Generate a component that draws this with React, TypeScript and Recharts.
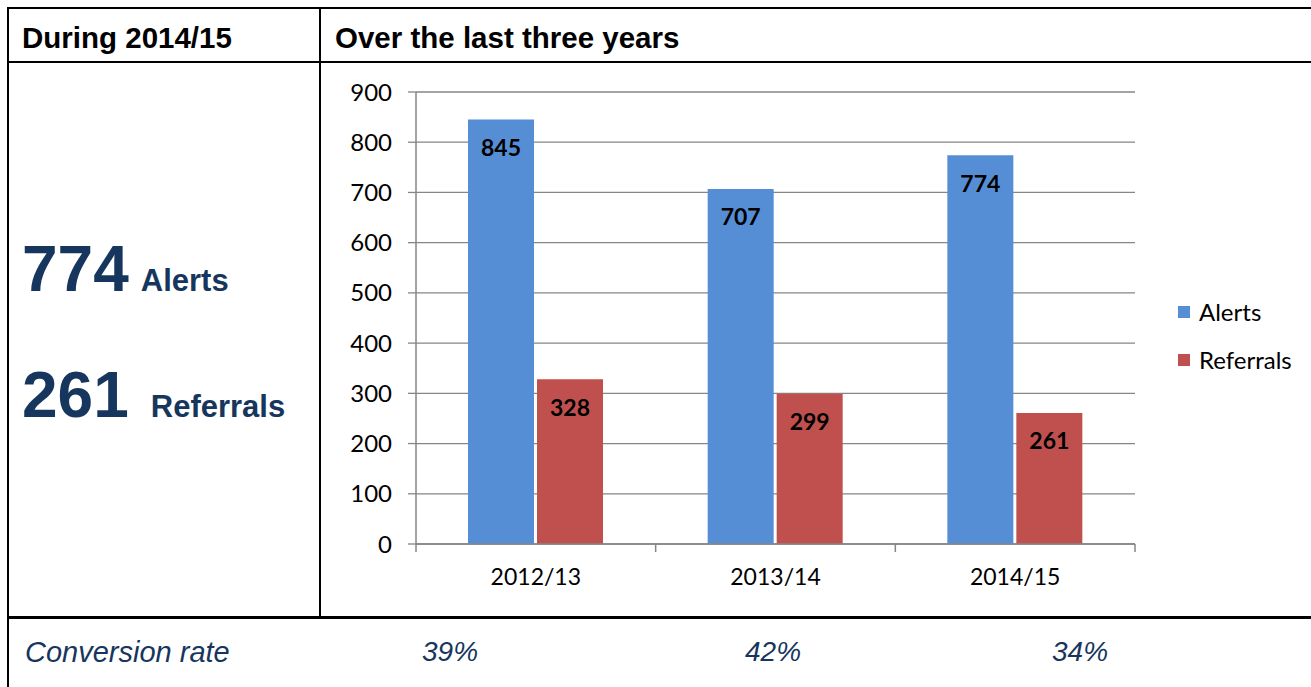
import React from "react";
import { BarChart, Bar, XAxis, YAxis, CartesianGrid, LabelList } from "recharts";

const years = ["2012/13", "2013/14", "2014/15"];
const alerts = [845, 707, 774];
const referrals = [328, 299, 261];
const conversionRates = ["39%", "42%", "34%"];
const yTicks = [0, 100, 200, 300, 400, 500, 600, 700, 800, 900];

const data = years.map((year, i) => ({ year, alerts: alerts[i], referrals: referrals[i] }));

const navy = "#17365D";
const gridGrey = "#868686";
const chartFont = "Lato, 'Noto Sans', sans-serif";
const tableFont = "'Liberation Sans', Arial, sans-serif";

const X_TICK_SIZE = 8;
const X_TICK_MARGIN = 17;

const legendItems = [
  { name: "Alerts", color: "#558ED5" },
  { name: "Referrals", color: "#C0504D" },
];

const line = (style: React.CSSProperties) => (
  <div style={{ position: "absolute", background: "#000", ...style }} />
);

// category label plus tick marks on the category boundaries (Excel style)
const YearTick = (props: any) => {
  const { x, y, payload, index } = props;
  const half = payload.offset || 0;
  const axisY = y - X_TICK_SIZE - X_TICK_MARGIN;
  const last = index === years.length - 1;
  return (
    <g>
      <line x1={x - half} x2={x - half} y1={axisY} y2={axisY + X_TICK_SIZE} stroke={gridGrey} strokeWidth={1.5} />
      {last && (
        <line x1={x + half} x2={x + half} y1={axisY} y2={axisY + X_TICK_SIZE} stroke={gridGrey} strokeWidth={1.5} />
      )}
      <text x={x} y={y} dy="0.71em" textAnchor="middle" fill="#000" fontSize={23} fontFamily={chartFont}>
        {payload.value}
      </text>
    </g>
  );
};

const App = () => {
  return (
    <div
      style={{
        position: "absolute",
        left: 0,
        top: 0,
        width: 1311,
        height: 687,
        overflow: "hidden",
        background: "#fff",
        fontFamily: tableFont,
      }}
    >
      {/* table borders */}
      {line({ left: 7, top: 7, width: 1310, height: 2 })}
      {line({ left: 7, top: 7, width: 2, height: 690 })}
      {line({ left: 319, top: 7, width: 2, height: 611 })}
      {line({ left: 7, top: 61, width: 1310, height: 2 })}
      {line({ left: 7, top: 616, width: 1310, height: 3 })}

      {/* header row */}
      <div style={{ position: "absolute", left: 22, top: 21, fontSize: 29.5, fontWeight: 700, color: "#000" }}>
        During 2014/15
      </div>
      <div style={{ position: "absolute", left: 335, top: 21, fontSize: 29.5, fontWeight: 700, color: "#000" }}>
        Over the last three years
      </div>

      {/* headline numbers */}
      <div style={{ position: "absolute", left: 22, top: 232, color: navy, fontWeight: 700, whiteSpace: "nowrap" }}>
        <span style={{ fontSize: 64 }}>774</span>
        <span style={{ fontSize: 31, marginLeft: 12 }}>Alerts</span>
      </div>
      <div style={{ position: "absolute", left: 22, top: 358, color: navy, fontWeight: 700, whiteSpace: "nowrap" }}>
        <span style={{ fontSize: 64 }}>261</span>
        <span style={{ fontSize: 31, marginLeft: 22 }}>Referrals</span>
      </div>

      {/* chart */}
      <div style={{ position: "absolute", left: 330, top: 70 }}>
        <BarChart
          width={981}
          height={540}
          data={data}
          margin={{ top: 22, right: 176, left: 26, bottom: 26 }}
          barCategoryGap="21.7%"
          barGap={3}
        >
          <CartesianGrid vertical={false} stroke={gridGrey} strokeWidth={1.3} />
          <XAxis
            dataKey="year"
            height={40}
            tickLine={false}
            tickSize={X_TICK_SIZE}
            tickMargin={X_TICK_MARGIN}
            axisLine={{ stroke: gridGrey, strokeWidth: 1.5 }}
            tick={YearTick}
          />
          <YAxis
            width={60}
            domain={[0, 900]}
            ticks={yTicks}
            interval={0}
            tickSize={8}
            tickMargin={16}
            axisLine={{ stroke: gridGrey, strokeWidth: 1.5 }}
            tickLine={{ stroke: gridGrey, strokeWidth: 1.3 }}
            tick={{ fill: "#000", fontSize: 24, fontFamily: chartFont }}
          />
          <Bar dataKey="alerts" fill="#558ED5" isAnimationActive={false}>
            <LabelList
              dataKey="alerts"
              position="insideTop"
              offset={20}
              fill="#000"
              fontSize={23}
              fontWeight={700}
              fontFamily={chartFont}
            />
          </Bar>
          <Bar dataKey="referrals" fill="#C0504D" isAnimationActive={false}>
            <LabelList
              dataKey="referrals"
              position="insideTop"
              offset={20}
              fill="#000"
              fontSize={23}
              fontWeight={700}
              fontFamily={chartFont}
            />
          </Bar>
        </BarChart>
      </div>

      {/* legend */}
      {legendItems.map((item, i) => (
        <div
          key={item.name}
          style={{
            position: "absolute",
            left: 1178,
            top: 297 + i * 48,
            display: "flex",
            alignItems: "center",
            fontFamily: chartFont,
            fontSize: 24,
            color: "#000",
          }}
        >
          <span style={{ width: 12, height: 12, background: item.color, marginRight: 9 }} />
          <span>{item.name}</span>
        </div>
      ))}

      {/* conversion row */}
      <div
        style={{
          position: "absolute",
          left: 25,
          top: 636,
          fontSize: 29,
          fontStyle: "italic",
          color: navy,
          whiteSpace: "nowrap",
        }}
      >
        Conversion rate
      </div>
      {conversionRates.map((rate, i) => (
        <div
          key={rate}
          style={{
            position: "absolute",
            left: [422, 745, 1052][i],
            top: 636,
            fontSize: 28,
            fontStyle: "italic",
            color: navy,
          }}
        >
          {rate}
        </div>
      ))}
    </div>
  );
};

export default App;
